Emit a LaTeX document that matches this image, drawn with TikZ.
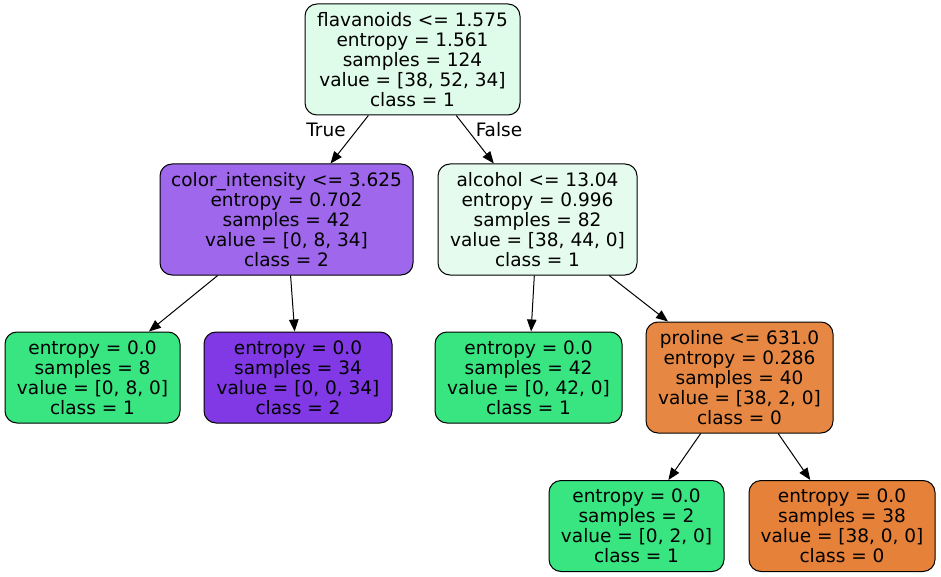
\documentclass[tikz,border=0pt]{standalone}
\usepackage{fontspec}
\setmainfont{DejaVu Sans}
\usepackage{xcolor}
\usetikzlibrary{arrows.meta}

\definecolor{cgreen}{RGB}{57,229,129}
\definecolor{cpurple}{RGB}{129,57,229}
\definecolor{corange}{RGB}{229,129,57}
\definecolor{croot}{RGB}{223,251,234}
\definecolor{cci}{RGB}{159,103,235}
\definecolor{calc}{RGB}{228,251,238}
\definecolor{cprol}{RGB}{230,136,68}

\tikzset{
  split/.style={draw=black, line width=1pt, rounded corners=12pt, align=center,
    inner sep=0pt, font=\fontsize{18.5}{20}\selectfont},
  edgelab/.style={font=\fontsize{18.5}{20}\selectfont, anchor=base},
}

\begin{document}
\begin{tikzpicture}[x=1pt, y=-1pt, >={Triangle[length=12pt,width=9.5pt]}]
      \useasboundingbox (0,0) rectangle (941,577);

      \node[split, fill=croot, minimum width=215pt, minimum height=111pt] (root) at (412.5,59.5)
        {flavanoids <= 1.575\\entropy = 1.561\\samples = 124\\value = [38, 52, 34]\\class = 1};
      \node[split, fill=cci, minimum width=253pt, minimum height=111pt] (ci) at (286.5,219.5)
        {color\_intensity <= 3.625\\entropy = 0.702\\samples = 42\\value = [0, 8, 34]\\class = 2};
      \node[split, fill=calc, minimum width=199pt, minimum height=111pt] (alc) at (537.5,219.5)
        {alcohol <= 13.04\\entropy = 0.996\\samples = 82\\value = [38, 44, 0]\\class = 1};
      \node[split, fill=cgreen, minimum width=175pt, minimum height=91pt] (l1) at (92.5,377.5)
        {entropy = 0.0\\samples = 8\\value = [0, 8, 0]\\class = 1};
      \node[split, fill=cpurple, minimum width=188pt, minimum height=91pt] (l2) at (298,377.5)
        {entropy = 0.0\\samples = 34\\value = [0, 0, 34]\\class = 2};
      \node[split, fill=cgreen, minimum width=187pt, minimum height=91pt] (l3) at (528.5,377.5)
        {entropy = 0.0\\samples = 42\\value = [0, 42, 0]\\class = 1};
      \node[split, fill=cprol, minimum width=187pt, minimum height=111pt] (prol) at (739.5,377.5)
        {proline <= 631.0\\entropy = 0.286\\samples = 40\\value = [38, 2, 0]\\class = 0};
      \node[split, fill=cgreen, minimum width=175pt, minimum height=91pt] (l5) at (636.5,526)
        {entropy = 0.0\\samples = 2\\value = [0, 2, 0]\\class = 1};
      \node[split, fill=corange, minimum width=186pt, minimum height=91pt] (l6) at (842,526)
        {entropy = 0.0\\samples = 38\\value = [38, 0, 0]\\class = 0};

      \path[->, line width=1pt] (root) edge (ci);
      \path[->, line width=1pt] (root) edge (alc);
      \path[->, line width=1pt] (ci) edge (l1);
      \path[->, line width=1pt] (ci) edge (l2);
      \path[->, line width=1pt] (alc) edge (l3);
      \path[->, line width=1pt] (alc) edge (prol);
      \path[->, line width=1pt] (prol) edge (l5);
      \path[->, line width=1pt] (prol) edge (l6);

      \node[edgelab] (ltrue) at (326,137) {True};
      \node[edgelab] (lfalse) at (499,137) {False};
    \end{tikzpicture}
\end{document}
